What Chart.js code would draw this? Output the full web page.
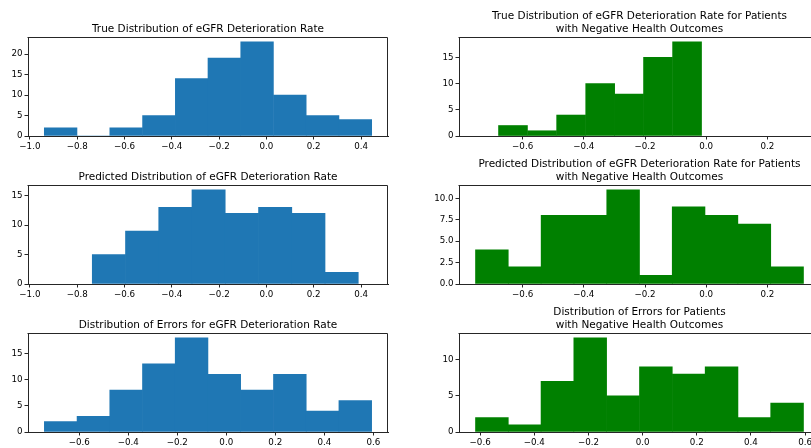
<!DOCTYPE html>
<html lang="en">
<head>
<meta charset="UTF-8">
<title>eGFR histograms</title>
<script src="https://cdn.jsdelivr.net/npm/chart.js@4.4.0/dist/chart.umd.min.js"></script>
<style>
  body { margin: 0; background: #fff; width: 811px; height: 448px; overflow: hidden; position: relative; }
  canvas { position: absolute; }
  .title { position: absolute; font-family: "DejaVu Sans", sans-serif; font-size: 10.5px; line-height: 13px; color: #000; text-align: center; white-space: nowrap; }
</style>
</head>
<body>
<script>
// bin edges and counts
const trueAllEdges = [-0.939, -0.801, -0.662, -0.524, -0.385, -0.247, -0.109, 0.030, 0.168, 0.307, 0.445];
const trueAllCounts = [2, 0, 2, 5, 14, 19, 23, 10, 5, 4];
const predAllEdges = [-0.736, -0.596, -0.455, -0.315, -0.174, -0.033, 0.107, 0.248, 0.388];
const predAllCounts = [5, 9, 13, 16, 12, 13, 12, 2];
const errAllEdges = [-0.742, -0.609, -0.475, -0.342, -0.208, -0.075, 0.059, 0.193, 0.326, 0.460, 0.593];
const errAllCounts = [2, 3, 8, 13, 18, 11, 8, 11, 4, 6];

const trueNegEdges = [-0.679, -0.584, -0.489, -0.394, -0.299, -0.205, -0.110, -0.015];
const trueNegCounts = [2, 1, 4, 10, 8, 15, 18];
const predNegEdges = [-0.754, -0.647, -0.540, -0.432, -0.325, -0.218, -0.111, -0.004, 0.104, 0.211, 0.318];
const predNegCounts = [4, 2, 8, 8, 11, 1, 9, 8, 7, 2];
const errNegEdges = [-0.617, -0.496, -0.375, -0.254, -0.133, -0.012, 0.110, 0.231, 0.352, 0.473, 0.594];
const errNegCounts = [2, 1, 7, 13, 5, 9, 8, 9, 2, 4];

const leftTopTicks = [-1.0, -0.8, -0.6, -0.4, -0.2, 0.0, 0.2, 0.4];
const errTicks = [-0.6, -0.4, -0.2, 0.0, 0.2, 0.4, 0.6];
const rightTopTicks = [-0.6, -0.4, -0.2, 0.0, 0.2];

const titles = [
  'True Distribution of eGFR Deterioration Rate',
  'Predicted Distribution of eGFR Deterioration Rate',
  'Distribution of Errors for eGFR Deterioration Rate',
  ['True Distribution of eGFR Deterioration Rate for Patients', 'with Negative Health Outcomes'],
  ['Predicted Distribution of eGFR Deterioration Rate for Patients', 'with Negative Health Outcomes'],
  ['Distribution of Errors for Patients', 'with Negative Health Outcomes']
];

const BLUE = '#1f77b4';
const GREEN = '#008000';
const FONT = "'DejaVu Sans', sans-serif";
const INK = '#262626';

const fmt = (v, d) => v.toFixed(d).replace('-', '\u2212');

// top and right spines
const boxPlugin = {
  id: 'box',
  afterDraw(chart) {
    const a = chart.chartArea, c = chart.ctx;
    c.save();
    c.strokeStyle = INK;
    c.lineWidth = 1;
    c.beginPath();
    c.moveTo(Math.round(a.left) - 0.5, Math.round(a.top) + 0.5);
    c.lineTo(Math.round(a.right) - 0.5, Math.round(a.top) + 0.5);
    c.lineTo(Math.round(a.right) - 0.5, Math.round(a.bottom));
    c.stroke();
    c.restore();
  }
};

function hist(o) {
  const cv = document.createElement('canvas');
  const padTop = 8, xAxisH = 22;
  const w = o.canvasW, h = padTop + (o.bottom - o.top) + xAxisH;
  cv.width = w; cv.height = h;
  cv.style.left = o.canvasX + 'px';
  cv.style.top = (o.top - padTop) + 'px';
  cv.style.width = w + 'px';
  cv.style.height = h + 'px';
  document.body.appendChild(cv);

  const pts = o.counts.map((c, i) => ({ x: (o.edges[i] + o.edges[i + 1]) / 2, y: c }));

  new Chart(cv, {
    type: 'bar',
    data: { datasets: [{ data: pts, backgroundColor: o.color, borderWidth: 0, barPercentage: 1, categoryPercentage: 1 }] },
    options: {
      responsive: false,
      animation: false,
      events: [],
      layout: { padding: { top: padTop, left: 0, right: o.canvasW - (o.right - o.canvasX), bottom: 0 } },
      plugins: { legend: { display: false }, tooltip: { enabled: false } },
      scales: {
        x: {
          type: 'linear', offset: false, min: o.xMin, max: o.xMax,
          grid: { offset: false, drawOnChartArea: false, drawTicks: true, tickLength: 3.5, color: INK },
          border: { display: true, color: INK, width: 1 },
          ticks: { font: { family: FONT, size: 8.7 }, color: '#000', padding: 2, maxRotation: 0, autoSkip: false,
                   callback: v => fmt(v, 1) },
          afterBuildTicks: s => { s.ticks = o.xTicks.map(v => ({ value: v })); },
          afterFit: s => { s.height = xAxisH; }
        },
        y: {
          min: 0, max: o.yMax,
          grid: { drawOnChartArea: false, drawTicks: true, tickLength: 3.5, color: INK },
          border: { display: true, color: INK, width: 1 },
          ticks: { font: { family: FONT, size: 8.7 }, color: '#000', padding: 2, autoSkip: false,
                   callback: v => fmt(v, o.yDec) },
          afterBuildTicks: s => { s.ticks = o.yTicks.map(v => ({ value: v })); },
          afterFit: s => { s.width = o.left - o.canvasX; }
        }
      }
    },
    plugins: [boxPlugin]
  });

  const t = document.createElement('div');
  t.className = 'title';
  const lines = Array.isArray(o.title) ? o.title : [o.title];
  t.innerHTML = lines.map(l => l.replace(/&/g, '&amp;')).join('<br>');
  t.style.left = (o.left - 100) + 'px';
  t.style.width = (o.right - o.left + 200) + 'px';
  t.style.top = (o.top - 2 - 13 * lines.length) + 'px';
  document.body.appendChild(t);
}

const L = { canvasX: 0, canvasW: 400, left: 28, right: 388 };
const R = { canvasX: 400, canvasW: 430, left: 459, right: 820 };

hist({ ...L, top: 37, bottom: 136, edges: trueAllEdges, counts: trueAllCounts, color: BLUE,
  xMin: -1.008, xMax: 0.514, xTicks: leftTopTicks, yMax: 24.15, yTicks: [0, 5, 10, 15, 20], yDec: 0, title: titles[0] });
hist({ ...L, top: 185, bottom: 284, edges: predAllEdges, counts: predAllCounts, color: BLUE,
  xMin: -1.008, xMax: 0.514, xTicks: leftTopTicks, yMax: 16.8, yTicks: [0, 5, 10, 15], yDec: 0, title: titles[1] });
hist({ ...L, top: 333, bottom: 432, edges: errAllEdges, counts: errAllCounts, color: BLUE,
  xMin: -0.809, xMax: 0.660, xTicks: errTicks, yMax: 18.9, yTicks: [0, 5, 10, 15], yDec: 0, title: titles[2] });

hist({ ...R, top: 37, bottom: 136, edges: trueNegEdges, counts: trueNegCounts, color: GREEN,
  xMin: -0.808, xMax: 0.372, xTicks: rightTopTicks, yMax: 18.9, yTicks: [0, 5, 10, 15], yDec: 0, title: titles[3] });
hist({ ...R, top: 185, bottom: 284, edges: predNegEdges, counts: predNegCounts, color: GREEN,
  xMin: -0.808, xMax: 0.372, xTicks: rightTopTicks, yMax: 11.55, yTicks: [0, 2.5, 5, 7.5, 10], yDec: 1, title: titles[4] });
hist({ ...R, top: 333, bottom: 432, edges: errNegEdges, counts: errNegCounts, color: GREEN,
  xMin: -0.678, xMax: 0.655, xTicks: errTicks, yMax: 13.65, yTicks: [0, 5, 10], yDec: 0, title: titles[5] });
</script>
</body>
</html>
